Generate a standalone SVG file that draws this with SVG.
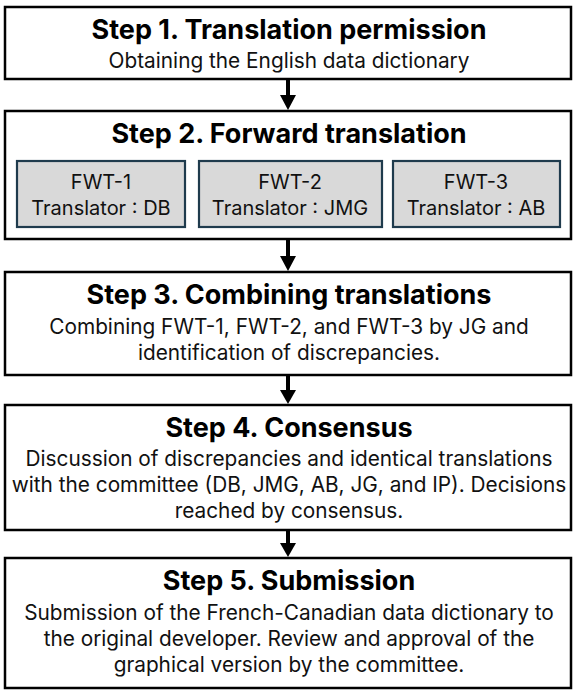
<svg xmlns="http://www.w3.org/2000/svg" width="577" height="698" viewBox="0 0 577 698">
<defs>
<style>
.box{fill:#fff;stroke:#000;stroke-width:2.5}
.sub{fill:#d9d9d9;stroke:#1f3b4d;stroke-width:2.2}
.t{font-family:Inter,"Open Sans",sans-serif;font-weight:700;font-size:27px;fill:#000;text-anchor:middle}
.d{font-family:Inter,"Open Sans",sans-serif;font-size:20.8px;fill:#111;text-anchor:middle}
.g{font-family:Inter,"Open Sans",sans-serif;font-size:20px;fill:#111;text-anchor:middle}
.c{stroke:#000;stroke-width:4;fill:none}
.h{fill:#000}
</style>
</defs>
<rect width="577" height="698" fill="#fff"/>
<g id="step1">
<rect class="box" x="5" y="7" width="566" height="72"/>
<text class="t" x="289" y="39">Step 1. Translation permission</text>
<text class="d" x="289" y="68">Obtaining the English data dictionary</text>
</g>
<g id="step2">
<rect class="box" x="5" y="111" width="566" height="128"/>
<text class="t" x="289" y="143">Step 2. Forward translation</text>
<g id="fwt1">
<rect class="sub" x="17" y="161" width="168" height="66"/>
<text class="g" x="101" y="189">FWT-1</text>
<text class="g" x="101" y="215">Translator : DB</text>
</g>
<g id="fwt2">
<rect class="sub" x="199" y="161" width="183" height="66"/>
<text class="g" x="290" y="189">FWT-2</text>
<text class="g" x="290" y="215">Translator : JMG</text>
</g>
<g id="fwt3">
<rect class="sub" x="393" y="161" width="167" height="66"/>
<text class="g" x="476" y="189">FWT-3</text>
<text class="g" x="476" y="215">Translator : AB</text>
</g>
</g>
<g id="step3">
<rect class="box" x="5" y="272" width="566" height="103"/>
<text class="t" x="289" y="304">Step 3. Combining translations</text>
<text class="d" x="289" y="334">Combining FWT-1, FWT-2, and FWT-3 by JG and</text>
<text class="d" x="289" y="360">identification of discrepancies.</text>
</g>
<g id="step4">
<rect class="box" x="5" y="405" width="566" height="125"/>
<text class="t" x="289" y="437">Step 4. Consensus</text>
<text class="d" x="289" y="466">Discussion of discrepancies and identical translations</text>
<text class="d" x="289" y="492">with the committee (DB, JMG, AB, JG, and IP). Decisions</text>
<text class="d" x="289" y="518">reached by consensus.</text>
</g>
<g id="step5">
<rect class="box" x="5" y="558" width="566" height="130"/>
<text class="t" x="289" y="590">Step 5. Submission</text>
<text class="d" x="289" y="620">Submission of the French-Canadian data dictionary to</text>
<text class="d" x="289" y="646">the original developer. Review and approval of the</text>
<text class="d" x="289" y="672">graphical version by the committee.</text>
</g>
<g id="connectors">
<line class="c" x1="288" y1="80" x2="288" y2="96"/>
<path class="h" d="M280,95 L296,95 L288,110 Z"/>
<line class="c" x1="288" y1="240" x2="288" y2="257"/>
<path class="h" d="M280,256 L296,256 L288,271 Z"/>
<line class="c" x1="288" y1="376" x2="288" y2="391"/>
<path class="h" d="M280,390 L296,390 L288,404 Z"/>
<line class="c" x1="288" y1="531" x2="288" y2="544"/>
<path class="h" d="M280,543 L296,543 L288,557 Z"/>
</g>
</svg>
